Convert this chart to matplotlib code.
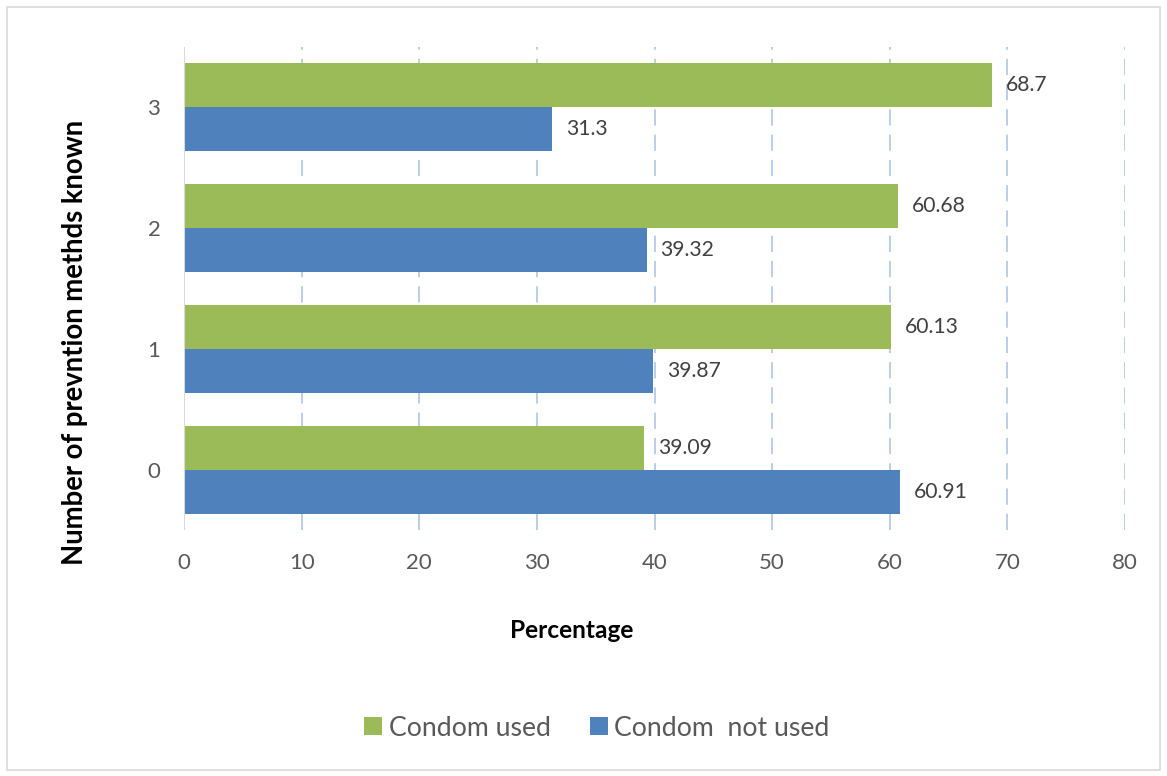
import matplotlib
matplotlib.use("Agg")
import matplotlib.pyplot as plt
from matplotlib.patches import Rectangle
import numpy as np

categories = ["0", "1", "2", "3"]
condom_used = [39.09, 60.13, 60.68, 68.7]
condom_not_used = [60.91, 39.87, 39.32, 31.3]
x_ticks = [0, 10, 20, 30, 40, 50, 60, 70, 80]

GREEN = "#9BBB59"
BLUE = "#4F81BD"
TICK_COLOR = "#595959"
LABEL_COLOR = "#404040"

plt.rcParams["font.family"] = ["Lato", "DejaVu Sans"]

W, H = 1167, 776
fig = plt.figure(figsize=(W / 100, H / 100), dpi=100)

# outer chart border
fig.patches.append(Rectangle((7 / W, 1 - 770 / H), 1153 / W, 763 / H,
                             transform=fig.transFigure, fill=False,
                             edgecolor="#d9d9d9", linewidth=1.2))

ax = fig.add_axes([184 / W, 1 - 530 / H, (1125 - 184) / W, (530 - 47) / H])

y = np.arange(len(categories))
bh = 0.364
ax.barh(y + bh / 2, condom_used, height=bh, color=GREEN, label="Condom used", zorder=3)
ax.barh(y - bh / 2, condom_not_used, height=bh, color=BLUE, label="Condom  not used", zorder=3)

for yi, v in zip(y, condom_used):
    ax.annotate(f"{v:g}", (v, yi + bh / 2), xytext=(10, 0), textcoords="offset points",
                va="center", ha="left", fontsize=15.2, color=LABEL_COLOR)
for yi, v in zip(y, condom_not_used):
    ax.annotate(f"{v:g}", (v, yi - bh / 2), xytext=(10, 0), textcoords="offset points",
                va="center", ha="left", fontsize=15.2, color=LABEL_COLOR)

ax.set_xlim(0, 80)
ax.set_ylim(-0.5, 3.5)
ax.set_xticks(x_ticks)
ax.set_yticks(y)
ax.set_yticklabels(categories)

for xv in x_ticks[1:]:
    ax.axvline(xv, color="#b4cbe4", linewidth=1.3, linestyle=(0, (9, 5)), zorder=1)
ax.axvline(0, color="#d9d9d9", linewidth=1.5, zorder=4)

for s in ax.spines.values():
    s.set_visible(False)
ax.tick_params(axis="both", length=0, labelsize=16, labelcolor=TICK_COLOR)
ax.tick_params(axis="x", pad=16.5)
ax.tick_params(axis="y", pad=17)

fig.text(75 / W, 1 - 342 / H, "Number of prevntion methds known", rotation=90,
         ha="center", va="center", fontsize=19.8, fontweight="bold", color="black")
fig.text(572 / W, 1 - 630 / H, "Percentage", ha="center", va="center",
         fontsize=17.6, fontweight="bold", color="black")

leg = fig.legend(loc="center", bbox_to_anchor=(597 / W, 1 - 728 / H), ncol=2,
                 frameon=False, fontsize=19.2, handlelength=0.67, handleheight=0.67,
                 handletextpad=0.26, columnspacing=1.45, labelcolor=TICK_COLOR)

fig.savefig("out.png", dpi=100, facecolor="white")
